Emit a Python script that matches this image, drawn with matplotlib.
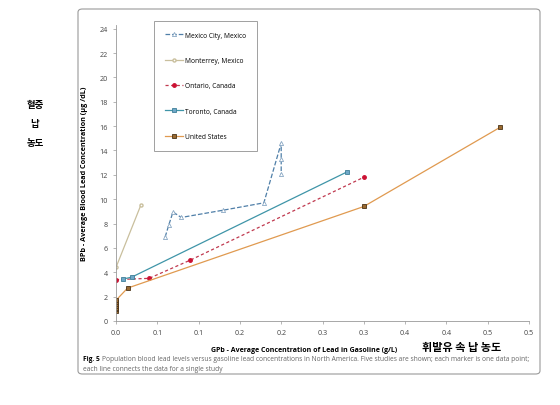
import matplotlib.pyplot as plt
from matplotlib.patches import FancyBboxPatch

# data (g/L vs ug/dL)
mex_x = [0.0595, 0.064, 0.069, 0.079, 0.130, 0.179, 0.200, 0.200, 0.200]
mex_y = [6.9, 7.9, 8.95, 8.5, 9.1, 9.7, 14.6, 13.3, 12.1]
mty_x = [0.0, 0.030]
mty_y = [4.4, 9.5]
ont_x = [0.0, 0.040, 0.090, 0.300]
ont_y = [3.4, 3.5, 5.0, 11.8]
tor_x = [0.009, 0.019, 0.280]
tor_y = [3.45, 3.6, 12.25]
us_x = [0.0, 0.0, 0.0, 0.0, 0.0, 0.0, 0.0, 0.014, 0.300, 0.465]
us_y = [0.8, 0.95, 1.1, 1.25, 1.4, 1.55, 1.7, 2.7, 9.4, 15.9]

xticks = [0.0, 0.05, 0.1, 0.15, 0.2, 0.25, 0.3, 0.35, 0.4, 0.45, 0.5]
xlabels = ['0.0', '0.1', '0.1', '0.2', '0.2', '0.3', '0.3', '0.4', '0.4', '0.5', '0.5']
yticks = list(range(0, 25, 2))

plt.rcParams['font.family'] = ['Open Sans', 'DejaVu Sans']

fig = plt.figure(figsize=(5.6, 4.06), dpi=100)
# outer frame of the figure panel
fig.patches.append(FancyBboxPatch((78 / 560, (406 - 375) / 406), 462 / 560, 365 / 406,
                                  boxstyle='round,pad=0,rounding_size=0.008',
                                  transform=fig.transFigure, fill=False,
                                  ec='#9a9a9a', lw=0.8))

ax = fig.add_axes([116 / 560, 84 / 406, 413 / 560, 296 / 406])

ax.plot(mex_x, mex_y, ls='--', color='#4f7fa8', lw=0.9, marker='^', ms=3,
        mfc='white', mec='#8aa8c4', mew=0.6, label='Mexico City, Mexico')
ax.plot(mty_x, mty_y, ls='-', color='#c9bf9d', lw=0.9, marker='o', ms=2.2,
        mfc='white', mec='#c9bf9d', label='Monterrey, Mexico')
ax.plot(ont_x, ont_y, ls='--', color='#c0394f', lw=0.9, marker='o', ms=2.5,
        mfc='#cc1133', mec='#cc1133', label='Ontario, Canada', dashes=(2.5, 2))
ax.plot(tor_x, tor_y, ls='-', color='#3f95a8', lw=0.9, marker='s', ms=3,
        mfc='#6fa8c8', mec='#3f7f98', mew=0.6, label='Toronto, Canada')
ax.plot(us_x, us_y, ls='-', color='#e09a50', lw=0.9, marker='s', ms=3,
        mfc='#9a6a30', mec='#4a3318', mew=0.6, label='United States')

ax.set_xlim(0, 0.5)
ax.set_ylim(0, 24.3)
ax.set_xticks(xticks)
ax.set_xticklabels(xlabels)
ax.set_yticks(yticks)
ax.tick_params(labelsize=5.2, colors='#444444', length=2.5, width=0.5)
ax.tick_params(axis='both', color='#999999')
for s in ['top', 'right']:
    ax.spines[s].set_visible(False)
for s in ['left', 'bottom']:
    ax.spines[s].set_color('#999999')
    ax.spines[s].set_linewidth(0.6)

ax.set_ylabel('BPb - Average Blood Lead Concentration (μg /dL)', fontsize=5.2,
              fontweight='bold', labelpad=8)
ax.set_xlabel('GPb - Average Concentration of Lead in Gasoline (g/L)', fontsize=5.0,
              fontweight='bold', labelpad=6)
ax.xaxis.set_label_coords(0.455, -0.085)

leg = ax.legend(loc='upper left', bbox_to_anchor=(0.092, 1.013), fontsize=4.8,
                frameon=True, fancybox=False, edgecolor='#888888',
                labelspacing=2.75, borderpad=1.6, handlelength=2.8,
                handletextpad=0.3, borderaxespad=0)
leg.get_frame().set_linewidth(0.7)

# Korean annotations
kr = ['Noto Sans CJK KR', 'DejaVu Sans']
fig.text(35 / 560, 1 - 105 / 406, '혈중', fontsize=6.8, fontweight='bold',
         family=kr, ha='center', va='center')
fig.text(35 / 560, 1 - 124 / 406, '납', fontsize=6.8, fontweight='bold',
         family=kr, ha='center', va='center')
fig.text(35 / 560, 1 - 143 / 406, '농도', fontsize=6.8, fontweight='bold',
         family=kr, ha='center', va='center')
fig.text(462 / 560, 1 - 348 / 406, '휘발유 속 납 농도', fontsize=8, fontweight='bold',
         family=kr, ha='center', va='center')

# caption
fig.text(83 / 560, 1 - 360 / 406, 'Fig. 5', fontsize=4.75, fontweight='bold',
         ha='left', va='center')
fig.text(102 / 560, 1 - 360 / 406,
         'Population blood lead levels versus gasoline lead concentrations in North America. '
         'Five studies are shown; each marker is one data point;',
         fontsize=4.75, color='#666666', ha='left', va='center')
fig.text(83 / 560, 1 - 370 / 406, 'each line connects the data for a single study',
         fontsize=4.75, color='#666666', ha='left', va='center')

fig.savefig('out.png', dpi=100)
